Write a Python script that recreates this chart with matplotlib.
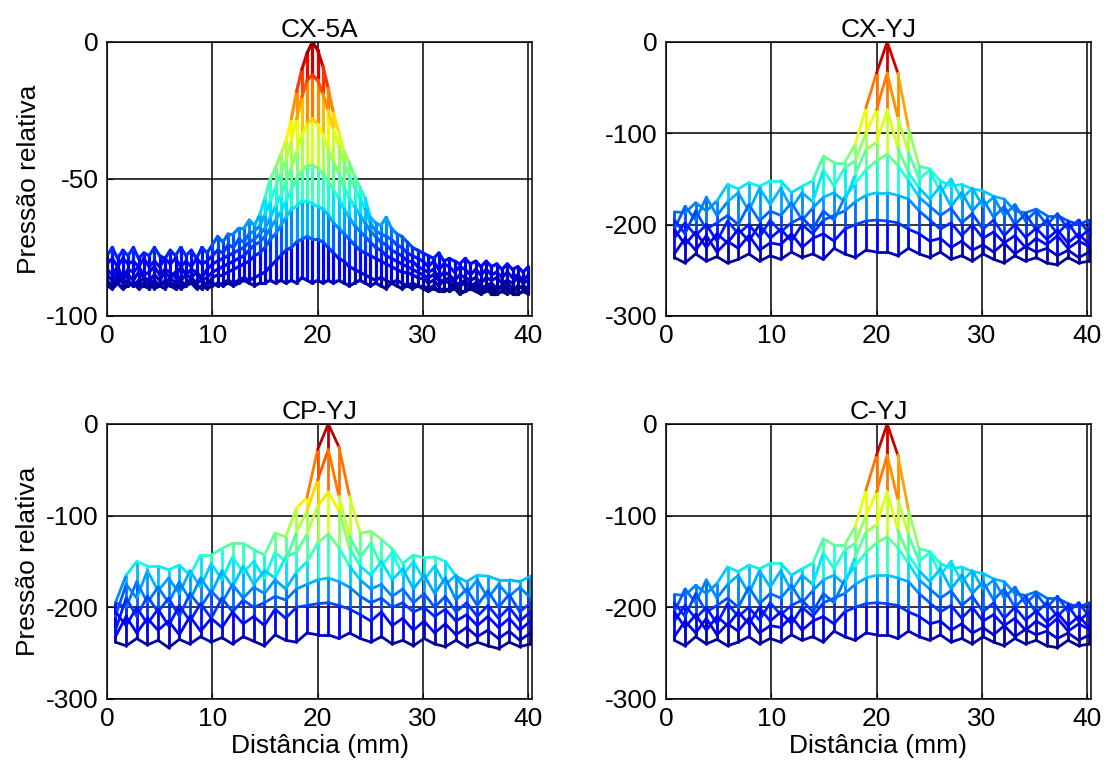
import numpy as np
import matplotlib.pyplot as plt
from matplotlib.collections import LineCollection

plt.rcParams['font.family'] = ['Liberation Sans', 'DejaVu Sans']
plt.rcParams['font.size'] = 19
plt.rcParams['axes.unicode_minus'] = False

# CX-5A: measurement positions every 0.5 mm, rows of the mesh seen from the side
x_cx5a = np.arange(0, 40.01, 0.5)
cx5a_r0 = [-78, -75, -79, -76, -78, -75, -79, -77, -78, -75, -78, -79, -76, -78, -75, -78, -76, -79, -75, -77,
           -74, -71, -73, -70, -70, -68, -68, -65, -67, -63,
           -57, -50, -46, -41, -36, -28, -18, -10, -4, 0,
           -3, -9, -17, -26, -33, -40, -44, -49, -53, -57,
           -64, -66, -67, -64, -68, -70, -71, -73, -75, -76,
           -77, -78, -79, -77, -80, -79, -80, -81, -79, -81,
           -80, -82, -80, -82, -81, -83, -81, -83, -82, -84, -82]
cx5a_r1 = [-81, -79, -82, -79, -81, -80, -82, -79, -82, -80, -82, -79, -81, -79, -82, -80, -82, -79, -81, -80,
           -78, -76, -77, -74, -75, -72, -73, -70, -69, -67,
           -63, -58, -53, -48, -43, -36, -28, -20, -14, -12,
           -14, -19, -25, -32, -38, -44, -49, -53, -57, -61,
           -66, -69, -70, -71, -72, -74, -75, -77, -78, -79,
           -80, -82, -80, -83, -81, -82, -84, -82, -83, -85,
           -83, -85, -83, -85, -84, -86, -84, -86, -85, -87, -85]
cx5a_r2 = [-83, -85, -82, -86, -83, -84, -82, -85, -84, -82, -85, -83, -84, -86, -82, -85, -83, -84, -86, -83,
           -81, -80, -79, -78, -77, -76, -75, -73, -72, -70,
           -68, -64, -60, -56, -51, -46, -40, -34, -30, -28,
           -30, -34, -39, -44, -48, -53, -57, -60, -63, -66,
           -69, -71, -73, -74, -76, -77, -78, -80, -80, -82,
           -83, -84, -83, -86, -84, -85, -87, -85, -86, -87,
           -86, -88, -86, -87, -86, -88, -87, -88, -86, -88, -87]
cx5a_r3 = [-85, -87, -84, -87, -85, -87, -84, -86, -87, -85, -87, -84, -86, -84, -87, -85, -86, -84, -87, -86,
           -84, -83, -82, -81, -80, -79, -78, -76, -74, -73,
           -71, -68, -65, -62, -58, -54, -50, -47, -45, -45,
           -46, -48, -51, -54, -57, -61, -64, -67, -69, -71,
           -73, -75, -76, -78, -79, -80, -81, -82, -83, -84,
           -85, -86, -85, -87, -87, -86, -88, -88, -87, -89,
           -88, -89, -89, -88, -90, -89, -88, -90, -90, -89, -90]
cx5a_r4 = [-87, -89, -86, -88, -87, -89, -88, -86, -88, -87, -89, -88, -86, -88, -87, -89, -86, -88, -87, -89,
           -86, -85, -85, -84, -83, -82, -81, -80, -78, -77,
           -75, -72, -70, -67, -64, -61, -60, -58, -58, -59,
           -60, -61, -63, -66, -68, -70, -72, -74, -76, -77,
           -78, -79, -80, -81, -82, -83, -84, -84, -85, -86,
           -86, -88, -87, -89, -87, -88, -89, -89, -88, -90,
           -89, -90, -90, -89, -91, -89, -90, -91, -89, -90, -91]
cx5a_r5 = [-88, -90, -88, -90, -88, -89, -87, -89, -90, -88, -89, -87, -89, -90, -88, -89, -87, -89, -90, -88,
           -88, -89, -88, -87, -88, -87, -86, -87, -86, -85,
           -84, -82, -80, -78, -76, -75, -73, -72, -71, -72,
           -72, -73, -75, -77, -79, -80, -82, -83, -84, -85,
           -86, -87, -86, -87, -88, -87, -88, -89, -88, -89,
           -89, -90, -89, -91, -91, -90, -89, -91, -91, -90,
           -90, -91, -90, -92, -92, -91, -90, -92, -92, -91, -91]
cx5a_r6 = [-89, -90, -88, -90, -89, -88, -90, -89, -88, -90, -89, -90, -88, -89, -90, -89, -88, -90, -89, -90,
           -89, -88, -89, -88, -89, -88, -87, -88, -89, -88,
           -88, -87, -88, -87, -88, -87, -88, -86, -87, -88,
           -87, -88, -87, -88, -87, -88, -89, -88, -87, -88,
           -89, -88, -89, -90, -88, -89, -90, -89, -90, -89,
           -90, -91, -90, -91, -90, -91, -90, -92, -91, -90,
           -91, -92, -91, -90, -92, -91, -92, -91, -92, -91, -92]

# YJ probes: 40 positions, about 1 mm apart
x_yj = np.linspace(0.8, 40.2, 40)
cxyj_r0 = [-186, -187, -176, -185, -174, -156, -161, -154, -158, -152,
           -152, -165, -158, -152, -125, -132, -132, -112, -72, -34,
           0, -34, -94, -136, -139, -152, -158, -156, -161, -163,
           -169, -172, -185, -187, -183, -190, -190, -196, -200, -195]
cxyj_r1 = [-205, -180, -195, -170, -190, -175, -165, -185, -160, -178,
           -160, -182, -165, -175, -140, -158, -138, -130, -100, -74,
           -34, -83, -121, -150, -140, -165, -150, -172, -160, -180,
           -170, -190, -178, -196, -185, -200, -188, -205, -195, -210]
cxyj_r2 = [-195, -210, -185, -205, -198, -190, -200, -178, -196, -185,
           -190, -176, -195, -182, -170, -165, -175, -145, -118, -110,
           -74, -116, -143, -160, -172, -158, -180, -165, -185, -172,
           -192, -180, -200, -188, -206, -195, -210, -198, -215, -205]
cxyj_r3 = [-215, -198, -212, -200, -218, -196, -210, -200, -214, -195,
           -208, -198, -192, -205, -185, -195, -170, -155, -140, -130,
           -123, -135, -152, -170, -180, -190, -182, -198, -188, -205,
           -195, -212, -200, -214, -204, -216, -206, -220, -210, -222]
cxyj_r4 = [-205, -222, -208, -225, -210, -220, -205, -218, -200, -215,
           -205, -218, -200, -210, -195, -190, -185, -175, -168, -165,
           -165, -168, -172, -185, -195, -205, -198, -212, -200, -215,
           -208, -220, -212, -225, -215, -222, -212, -226, -218, -224]
cxyj_r5 = [-232, -215, -228, -212, -230, -218, -226, -212, -228, -220,
           -222, -210, -225, -215, -210, -218, -205, -200, -196, -195,
           -196, -198, -205, -210, -218, -215, -225, -218, -228, -222,
           -230, -220, -232, -224, -230, -226, -234, -228, -236, -230]
cxyj_r6 = [-236, -242, -232, -240, -235, -242, -238, -232, -240, -234,
           -238, -230, -236, -232, -238, -226, -232, -236, -228, -230,
           -230, -234, -226, -232, -236, -230, -238, -234, -240, -232,
           -238, -242, -234, -240, -236, -242, -244, -236, -242, -240]

cpyj_r0 = [-195, -165, -150, -155, -155, -159, -154, -165, -143, -143,
           -136, -130, -130, -137, -143, -119, -123, -92, -80, -28,
           0, -25, -79, -119, -117, -126, -136, -152, -143, -146,
           -145, -150, -166, -172, -165, -166, -170, -170, -172, -166]
cpyj_r1 = [-210, -175, -190, -160, -182, -168, -185, -160, -178, -152,
           -170, -145, -162, -150, -168, -140, -150, -118, -95, -61,
           -28, -79, -123, -145, -130, -155, -140, -165, -150, -170,
           -155, -175, -165, -185, -170, -190, -175, -188, -178, -190]
cpyj_r2 = [-195, -200, -172, -195, -178, -195, -172, -192, -168, -185,
           -160, -178, -155, -175, -160, -168, -145, -140, -120, -90,
           -74, -95, -135, -155, -165, -150, -170, -158, -180, -165,
           -185, -168, -192, -180, -198, -182, -200, -186, -205, -195]
cpyj_r3 = [-225, -190, -210, -188, -205, -190, -210, -185, -200, -182,
           -195, -175, -190, -178, -185, -170, -180, -162, -150, -130,
           -120, -135, -155, -170, -180, -175, -188, -180, -195, -185,
           -200, -188, -205, -195, -210, -198, -212, -200, -215, -205]
cpyj_r4 = [-205, -220, -200, -218, -202, -220, -198, -215, -196, -212,
           -190, -205, -192, -200, -195, -188, -192, -180, -175, -170,
           -168, -172, -178, -188, -195, -190, -200, -195, -205, -200,
           -210, -202, -215, -208, -220, -210, -222, -212, -225, -215]
cpyj_r5 = [-232, -210, -228, -212, -225, -215, -230, -210, -226, -212,
           -222, -205, -218, -210, -220, -202, -212, -200, -198, -196,
           -195, -198, -202, -208, -215, -205, -220, -212, -225, -215,
           -228, -218, -230, -222, -232, -225, -234, -226, -236, -228]
cpyj_r6 = [-238, -242, -234, -241, -236, -244, -235, -240, -232, -238,
           -233, -240, -232, -237, -242, -230, -236, -238, -228, -230,
           -230, -234, -228, -234, -238, -232, -240, -236, -242, -234,
           -240, -243, -236, -243, -238, -242, -245, -238, -243, -240]

# C-YJ reads the same as CX-YJ in the figure
cyj_rows = [cxyj_r0, cxyj_r1, cxyj_r2, cxyj_r3, cxyj_r4, cxyj_r5, cxyj_r6]


def mesh_side(ax, x, rows, lw):
    # mesh viewed along y: rows become zigzag lines, the y-edges become vertical bars
    z = np.array(rows, dtype=float)
    segs = []
    vals = []
    for r in range(z.shape[0] - 1):
        for i in range(len(x)):
            segs.append([(x[i], z[r, i]), (x[i], z[r + 1, i])])
            vals.append((z[r, i] + z[r + 1, i]) / 2)
    for r in range(z.shape[0]):
        for i in range(len(x) - 1):
            segs.append([(x[i], z[r, i]), (x[i + 1], z[r, i + 1])])
            vals.append((z[r, i] + z[r, i + 1]) / 2)
    lc = LineCollection(segs, cmap='jet', norm=plt.Normalize(z.min(), z.max()),
                        linewidths=lw, capstyle='round')
    lc.set_array(np.array(vals))
    ax.add_collection(lc)


fig = plt.figure(figsize=(11.07, 7.66), dpi=100)
ax1 = fig.add_axes([0.0967, 0.5875, 0.3839, 0.3577])
ax2 = fig.add_axes([0.6016, 0.5875, 0.3839, 0.3577])
ax3 = fig.add_axes([0.0967, 0.0875, 0.3839, 0.359])
ax4 = fig.add_axes([0.6016, 0.0875, 0.3839, 0.359])

mesh_side(ax1, x_cx5a, [cx5a_r0, cx5a_r1, cx5a_r2, cx5a_r3, cx5a_r4, cx5a_r5, cx5a_r6], 2.3)
mesh_side(ax2, x_yj, [cxyj_r0, cxyj_r1, cxyj_r2, cxyj_r3, cxyj_r4, cxyj_r5, cxyj_r6], 2.0)
mesh_side(ax3, x_yj, [cpyj_r0, cpyj_r1, cpyj_r2, cpyj_r3, cpyj_r4, cpyj_r5, cpyj_r6], 2.0)
mesh_side(ax4, x_yj, cyj_rows, 2.0)

for ax, title in zip([ax1, ax2, ax3, ax4], ['CX-5A', 'CX-YJ', 'CP-YJ', 'C-YJ']):
    ax.set_xlim(0, 40.35)
    ax.set_xticks([0, 10, 20, 30, 40])
    if ax is ax1:
        ax.set_ylim(-100, 0)
        ax.set_yticks([-100, -50, 0])
    else:
        ax.set_ylim(-300, 0)
        ax.set_yticks([-300, -200, -100, 0])
    ax.set_title(title, pad=3, fontsize=19)
    ax.grid(True, color='black', linewidth=1.1, linestyle='-')
    ax.set_axisbelow(True)
    ax.tick_params(direction='in', length=4, pad=6, labelsize=19)
    for s in ax.spines.values():
        s.set_linewidth(1.1)

ax1.set_ylabel('Pressão relativa', fontsize=19, labelpad=4)
ax3.set_ylabel('Pressão relativa', fontsize=19, labelpad=4)
ax3.set_xlabel('Distância (mm)', fontsize=19, labelpad=2)
ax4.set_xlabel('Distância (mm)', fontsize=19, labelpad=2)

fig.savefig('out.png', dpi=100)
